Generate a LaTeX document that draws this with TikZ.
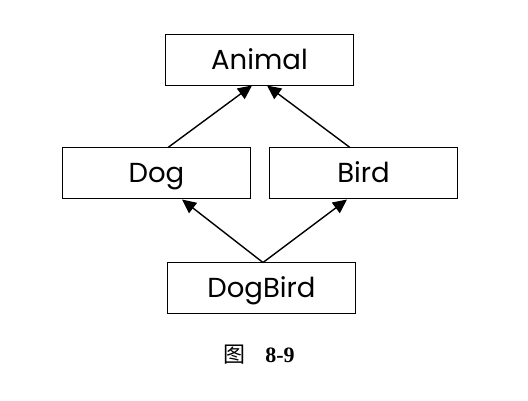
\documentclass[tikz,border=0pt]{standalone}
\usepackage{fontspec}
\setmainfont{Poppins}
\newfontfamily\cjk{Noto Sans CJK SC}
\newfontfamily\capfont{Liberation Serif}
\usetikzlibrary{arrows.meta}
\begin{document}
\begin{tikzpicture}[x=1pt,y=-1pt,
  cls/.style={draw, line width=1.3pt, minimum width=188pt, minimum height=51pt, inner sep=0pt, text height=19pt, text depth=0pt, font=\fontsize{27.5}{32}\selectfont},
  inh/.style={line width=1.4pt, -{Triangle[length=14pt,width=13pt]}}]
\useasboundingbox (0,0) rectangle (528,400);
\node[cls] (animal) at (259.5,60) {Animal};
\node[cls] (dog) at (156.5,173) {Dog};
\node[cls] (bird) at (363.5,173) {Bird};
\node[cls] (dogbird) at (261.5,288) {DogBird};
\draw[inh] (168,147.5) -- (252,85.5);
\draw[inh] (350,147.5) -- (267,85.5);
\draw[inh] (263,262.5) -- (182,199.5);
\draw[inh] (263,262.5) -- (347,199.5);
\node[font=\fontsize{22}{26}\selectfont] (cap) at (259,355) {{\cjk 图}\hspace{20pt}{\capfont\bfseries 8-9}};
\end{tikzpicture}
\end{document}
